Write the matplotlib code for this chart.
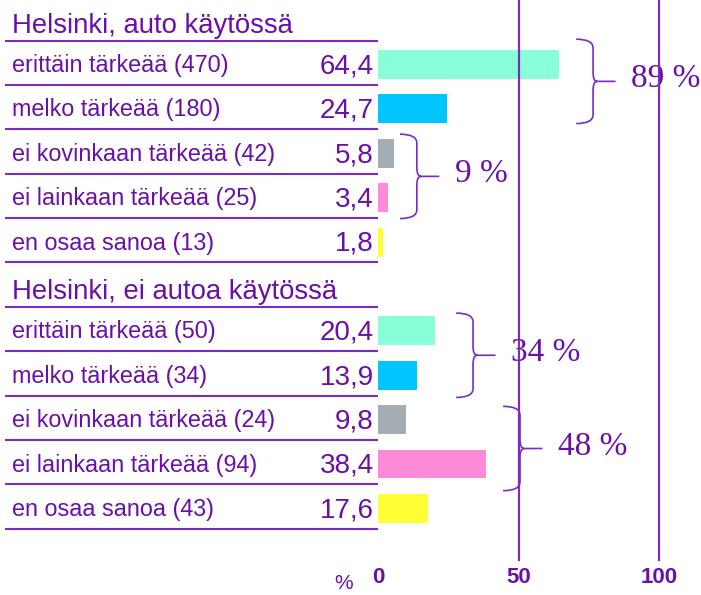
import matplotlib.pyplot as plt
from matplotlib.path import Path
from matplotlib.patches import PathPatch

# data
sections = ["Helsinki, auto käytössä", "Helsinki, ei autoa käytössä"]
categories = ["erittäin tärkeää", "melko tärkeää", "ei kovinkaan tärkeää",
              "ei lainkaan tärkeää", "en osaa sanoa"]
counts_auto = [470, 180, 42, 25, 13]
values_auto = [64.4, 24.7, 5.8, 3.4, 1.8]
counts_no_auto = [50, 34, 24, 94, 43]
values_no_auto = [20.4, 13.9, 9.8, 38.4, 17.6]
bar_colors = ["#88ffd8", "#00c5ff", "#a3adb3", "#ff8ad8", "#ffff33"]
x_ticks = [0, 50, 100]

# brace groups: (section, first row, last row, label)
brace_groups = [(0, 0, 1, "89 %"), (0, 2, 3, "9 %"),
                (1, 0, 1, "34 %"), (1, 2, 3, "48 %")]
brace_x0 = [70.5, 7.8, 27.8, 44.5]
brace_dy = [-0.12, 0.02, 0.05, 0.15]

PURPLE = "#6b0fa8"
LINE = "#7a2cc0"

fig = plt.figure(figsize=(7.01, 5.95), dpi=100)
ax = fig.add_axes([0, 0, 1, 1])
ax.set_xlim(-134.5, 114.9)
ax.set_ylim(11.95, -1.453)
ax.axis("off")

label_x = -130.2
value_x = -1.5


def fmt(v):
    return f"{v:.1f}".replace(".", ",")


for s, (title, counts, values) in enumerate(zip(sections,
                                                [counts_auto, counts_no_auto],
                                                [values_auto, values_no_auto])):
    base = s * 6
    ax.text(label_x, base - 1 + 0.28, title, fontsize=19.8, color=PURPLE,
            family="Liberation Sans", ha="left", va="baseline")
    rows = [base + i for i in range(len(categories))]
    ax.barh(rows, values, height=0.65, left=0, color=bar_colors, zorder=2)
    for r, cat, n, v in zip(rows, categories, counts, values):
        ax.text(label_x, r + 0.17, f"{cat} ({n})", fontsize=16.8, color=PURPLE,
                family="Liberation Sans", ha="left", va="baseline")
        ax.text(value_x, r + 0.2, fmt(v), fontsize=20, color=PURPLE,
                family="Liberation Sans", ha="right", va="baseline")
    for k in range(-1, len(categories)):
        ax.plot([-132.7, 0], [base + k + 0.46] * 2, color=LINE, lw=1.5,
                solid_capstyle="butt")

# vertical grid lines and tick labels
for t in x_ticks:
    if t > 0:
        ax.plot([t, t], [-1.5, 11.16], color=LINE, lw=1.6, zorder=3)
    ax.text(t, 11.55, str(t), fontsize=16, fontweight="bold", color=PURPLE,
            family="Liberation Sans", ha="center", va="center")
ax.text(-12.1, 11.9, "%", fontsize=15, color=PURPLE,
        family="Liberation Sans", ha="center", va="bottom")


def draw_brace(x0, yc, half, label):
    w, tip, rx, ry = 6.0, 14.0, 1.5, 0.2
    x1 = x0 + w
    yt, yb = yc - half, yc + half
    verts = [(x0, yt), (x1, yt), (x1, yt + ry),
             (x1, yc - ry), (x1, yc), (x1 + rx, yc),
             (x0 + tip, yc),
             (x1 + rx, yc), (x1, yc), (x1, yc + ry),
             (x1, yb - ry), (x1, yb), (x0, yb)]
    codes = [Path.MOVETO, Path.CURVE3, Path.CURVE3,
             Path.LINETO, Path.CURVE3, Path.CURVE3,
             Path.LINETO,
             Path.MOVETO, Path.CURVE3, Path.CURVE3,
             Path.LINETO, Path.CURVE3, Path.CURVE3]
    ax.add_patch(PathPatch(Path(verts, codes), fill=False, edgecolor=LINE,
                           lw=1.2, zorder=4))
    ax.text(x0 + tip + 5.5, yc - 0.05, label, fontsize=24, color=PURPLE,
            family="Liberation Serif", ha="left", va="center", zorder=2)


for (s, r0, r1, label), x0, dy in zip(brace_groups, brace_x0, brace_dy):
    yc = s * 6 + (r0 + r1) / 2 + dy
    draw_brace(x0, yc, 0.95, label)

fig.savefig("out.png", dpi=100)
